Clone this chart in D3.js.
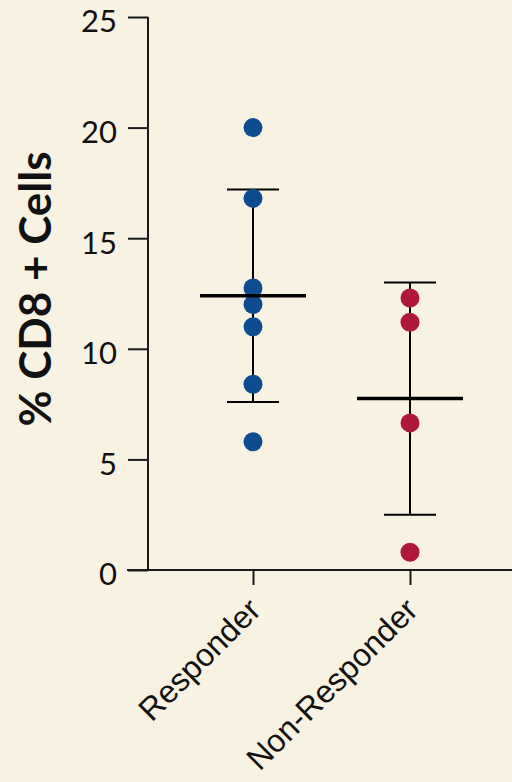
<!DOCTYPE html>
<html>
<head>
<meta charset="utf-8">
<script src="https://cdn.jsdelivr.net/npm/d3@7"></script>
<style>
  html, body { margin: 0; padding: 0; background: #f8f2e2; }
  svg { display: block; font-family: Lato, "Open Sans", sans-serif; }
</style>
</head>
<body>
<div id="chart"></div>
<script>
// data
const groups = ["Responder", "Non-Responder"];
const colors = ["#0e4c92", "#b0183a"];
const responderValues = [20.0, 16.8, 12.75, 12.0, 11.0, 8.4, 5.8];
const nonResponderValues = [12.3, 11.2, 6.65, 0.8];
const groupMeans = [12.4, 7.75];
const groupSD = [4.8, 5.25];
const yTicks = [0, 5, 10, 15, 20, 25];

const width = 512, height = 782;
const svg = d3.select("#chart").append("svg")
    .attr("width", width)
    .attr("height", height);

svg.append("rect").attr("width", width).attr("height", height).attr("fill", "#f8f2e2");

const y = d3.scaleLinear([0, 25], [570, 17]);
const x = d3.scalePoint(groups, [253, 410]);

// y axis
svg.append("g")
    .attr("transform", "translate(148,0)")
    .call(d3.axisLeft(y).tickValues(yTicks).tickSize(20).tickPadding(11))
    .call(g => g.select(".domain").attr("stroke", "#1a1a1a").attr("stroke-width", 2).attr("d", `M0,${y(25)}V${y(0)}`))
    .call(g => g.selectAll(".tick line").attr("stroke", "#1a1a1a").attr("stroke-width", 2))
    .call(g => g.selectAll(".tick text")
        .attr("font-size", 31)
        .attr("fill", "#111")
        .attr("dy", "0.48em")
        .attr("font-family", "Lato, sans-serif"));

// x axis
svg.append("g")
    .attr("transform", `translate(0,${y(0)})`)
    .call(d3.axisBottom(x).tickSize(15))
    .call(g => g.select(".domain").attr("stroke", "#1a1a1a").attr("stroke-width", 2).attr("d", `M127,0H${width}`))
    .call(g => g.selectAll(".tick line").attr("stroke", "#1a1a1a").attr("stroke-width", 2))
    .call(g => g.selectAll(".tick text")
        .attr("font-size", 32)
        .attr("fill", "#111")
        .attr("text-anchor", "end")
        .attr("y", 0)
        .attr("dy", 0)
        .attr("transform", "translate(9,42) rotate(-45)"));

// y title
svg.append("text")
    .attr("transform", `translate(51,${289}) rotate(-90)`)
    .attr("text-anchor", "middle")
    .attr("font-size", 44)
    .attr("font-weight", 700)
    .attr("fill", "#111")
    .text("% CD8 + Cells");

const series = [responderValues, nonResponderValues];

// error bars (mean ± SD)
const stats = svg.append("g").attr("stroke", "#000");
groups.forEach((gname, i) => {
  const cx = x(gname);
  const lo = groupMeans[i] - groupSD[i], hi = groupMeans[i] + groupSD[i];
  stats.append("line").attr("x1", cx).attr("x2", cx).attr("y1", y(hi)).attr("y2", y(lo)).attr("stroke-width", 2);
  [lo, hi].forEach(v => stats.append("line")
      .attr("x1", cx - 26).attr("x2", cx + 26).attr("y1", y(v)).attr("y2", y(v)).attr("stroke-width", 2));
});

// points
groups.forEach((gname, i) => {
  svg.append("g").selectAll("circle")
    .data(series[i])
    .join("circle")
    .attr("cx", x(gname))
    .attr("cy", d => y(d))
    .attr("r", 9.5)
    .attr("fill", colors[i]);
});

// mean lines on top
groups.forEach((gname, i) => {
  const cx = x(gname);
  svg.append("line")
    .attr("x1", cx - 53).attr("x2", cx + 53)
    .attr("y1", y(groupMeans[i])).attr("y2", y(groupMeans[i]))
    .attr("stroke", "#000").attr("stroke-width", 3.5);
});
</script>
</body>
</html>
